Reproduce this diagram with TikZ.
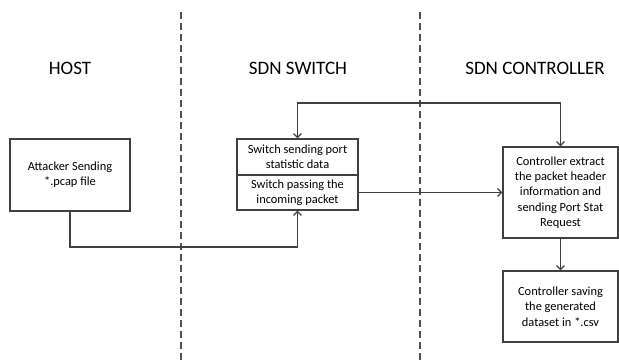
\documentclass[tikz,border=0pt]{standalone}
\usepackage{fontspec}
\setmainfont{Carlito}
\usetikzlibrary{arrows.meta}
\definecolor{ln}{HTML}{404040}
\definecolor{dsh}{HTML}{505050}
\tikzset{
  box/.style={draw=ln, line width=1.2pt, fill=white, align=center, inner sep=0pt,
    font=\fontsize{12.4}{15.3}\selectfont, text=black},
  head/.style={font=\fontsize{19}{22}\selectfont, text=black, inner sep=0pt},
  conn/.style={draw=ln, line width=1.2pt, -{Straight Barb[length=4pt,width=8pt]}},
  conn2/.style={draw=ln, line width=1.2pt, {Straight Barb[length=4pt,width=8pt]}-{Straight Barb[length=4pt,width=8pt]}},
  lane/.style={draw=dsh, line width=1.2pt, dash pattern=on 7pt off 4pt},
}
\begin{document}
\begin{tikzpicture}[x=1pt,y=-1pt]
\useasboundingbox (0,0) rectangle (619,360);
% lane separators
\coordinate (d1t) at (181,12); \coordinate (d1b) at (181,360);
\coordinate (d2t) at (420,12); \coordinate (d2b) at (420,360);
\draw[lane] (d1t) -- (d1b);
\draw[lane] (d2t) -- (d2b);
% headers
\node[head] (hhost) at (70,68) {HOST};
\node[head] (hsw) at (298,68) {SDN SWITCH};
\node[head] (hctl) at (535,68) {SDN CONTROLLER};
% boxes
\node[box, minimum width=120pt, minimum height=72pt] (host) at (70,175) {Attacker Sending\\*.pcap file};
\node[box, minimum width=121pt, minimum height=36pt] (sw1) at (297.5,157) {Switch sending port\\statistic data};
\node[box, minimum width=121pt, minimum height=35pt] (sw2) at (297.5,192.5) {Switch passing the\\incoming packet};
\node[box, minimum width=115pt, minimum height=91pt] (ctl) at (560.5,192.5) {Controller extract\\the packet header\\information and\\sending Port Stat\\Request};
\node[box, minimum width=115pt, minimum height=71pt] (sav) at (560.5,306.5) {Controller saving\\the generated\\dataset in *.csv};
% connectors
\coordinate (hb) at (200,247);
\coordinate (tl) at (430,103);
\draw[conn] (host.south) |- (hb) -| (sw2.south);
\draw[conn] (sw2.east) -- (ctl.west);
\draw[conn2] (sw1.north) |- (tl) -| (ctl.north);
\draw[conn] (ctl.south) -- (sav.north);
\end{tikzpicture}
\end{document}
